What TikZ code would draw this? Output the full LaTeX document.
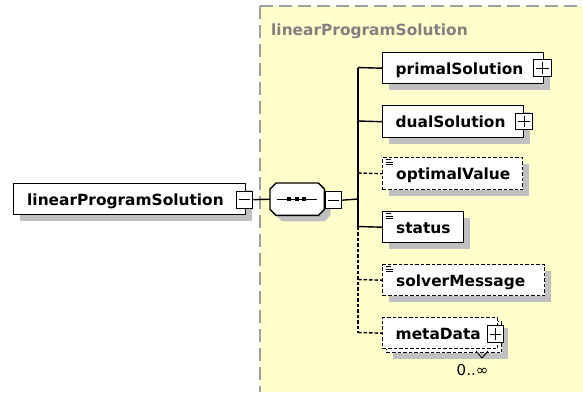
\documentclass[tikz,border=0pt]{standalone}
\usepackage{fontspec}
\setmainfont{DejaVu Sans}
\usetikzlibrary{shadows,calc}
\definecolor{groupfill}{RGB}{255,255,204}
\definecolor{groupline}{RGB}{160,160,160}
\definecolor{shadowgray}{RGB}{192,192,192}
\definecolor{titlegray}{RGB}{128,128,128}
\tikzset{
  shade6/.style={drop shadow={shadow xshift=6pt,shadow yshift=-6pt,fill=shadowgray,opacity=1}},
  plainbox/.style={draw,fill=white,line width=1.4pt,inner sep=0pt,anchor=north west},
  elembox/.style={plainbox,shade6},
  optbox/.style={elembox,dash pattern=on 3.5pt off 2pt},
  optplain/.style={plainbox,dash pattern=on 3.5pt off 2pt},
  elemlabel/.style={font=\bfseries\fontsize{15.4}{18}\selectfont,inner sep=0pt,anchor=base west},
  pmbox/.style={draw,fill=white,line width=1.3pt,inner sep=0pt,minimum width=17pt,minimum height=17pt,anchor=north west},
  conn/.style={line width=1.4pt},
  optconn/.style={conn,dash pattern=on 3.5pt off 2pt},
}
% expand/collapse glyphs inside the small square buttons
\newcommand\pmminus[1]{\draw[line width=1.2pt] ([xshift=3pt]#1.west) -- ([xshift=-3pt]#1.east);}
\newcommand\pmplus[1]{\pmminus{#1}\draw[line width=1.2pt] ([yshift=-3pt]#1.north) -- ([yshift=3pt]#1.south);}
% simple-content marker in the top left corner of an element box
\newcommand\simpleicon[1]{%
  \draw[line width=0.9pt] ([xshift=3.5pt,yshift=-2.5pt]#1.north west) -- +(5pt,0pt);
  \draw[line width=0.9pt] ([xshift=3.5pt,yshift=-5pt]#1.north west) -- +(7pt,0pt);
  \draw[line width=0.9pt] ([xshift=3.5pt,yshift=-7.5pt]#1.north west) -- +(7pt,0pt);}
\begin{document}
\begin{tikzpicture}[x=1pt,y=-1pt]
\useasboundingbox (0,0) rectangle (583,392);
% complex type area
\fill[groupfill] (260,6) rectangle (583,392);
\draw[groupline,line width=1.5pt,dash pattern=on 13pt off 6pt] (260,6) -- (583,6);
\draw[groupline,line width=1.5pt,dash pattern=on 13pt off 6pt] (260,6) -- (260,392);
\node[elemlabel,text=titlegray] (grouptitle) at (271,35) {linearProgramSolution};

% root element
\node[elembox,minimum width=232pt,minimum height=31pt] (root) at (13,183) {};
\node[elemlabel] (rootlabel) at (27,205) {linearProgramSolution};
\node[pmbox,minimum width=16pt] (rootpm) at (236,190.5) {};
\pmminus{rootpm}

% sequence compositor (octagon)
\node[inner sep=0pt,minimum width=54pt,minimum height=32pt,anchor=north west] (seq) at (270,183) {};
\path[draw,fill=white,line width=1.4pt,shade6]
  ($(seq.north west)+(6,0)$) -- ($(seq.north east)+(-6,0)$) -- ($(seq.north east)+(0,6)$)
  -- ($(seq.south east)+(0,-6)$) -- ($(seq.south east)+(-6,0)$) -- ($(seq.south west)+(6,0)$)
  -- ($(seq.south west)+(0,-6)$) -- ($(seq.north west)+(0,6)$) -- cycle;
\draw[conn] ([xshift=7pt]seq.west) -- ([xshift=-7pt]seq.east);
\foreach \dx in {19,27,34}
  \fill ($(seq.west)+(\dx,0)$) +(-1.8,-1.8) rectangle +(1.8,1.8);
\node[pmbox,minimum width=16pt] (seqpm) at (325,191) {};
\pmminus{seqpm}

\draw[conn] (rootpm.east) -- (seq.west);

% child elements
\node[elembox,minimum width=161pt,minimum height=31pt] (primal) at (382,52) {};
\node[elemlabel] (primallabel) at (395.5,74) {primalSolution};
\node[pmbox,minimum width=18pt] (primalpm) at (533,59) {};
\pmplus{primalpm}

\node[elembox,minimum width=141pt,minimum height=32pt] (dual) at (382,105) {};
\node[elemlabel] (duallabel) at (395.5,127.5) {dualSolution};
\node[pmbox,minimum height=16pt] (dualpm) at (515,112.5) {};
\pmplus{dualpm}

\node[optbox,minimum width=140pt,minimum height=32pt] (optimal) at (382,157) {};
\simpleicon{optimal}
\node[elemlabel] (optimallabel) at (396,179.5) {optimalValue};

\node[elembox,minimum width=81pt,minimum height=31pt] (status) at (382,211) {};
\simpleicon{status}
\node[elemlabel] (statuslabel) at (396,233) {status};

\node[optbox,minimum width=162pt,minimum height=31pt] (solver) at (382,264) {};
\simpleicon{solver}
\node[elemlabel] (solverlabel) at (396,286) {solverMessage};

\node[optbox,minimum width=115pt,minimum height=31pt] (metaback) at (386,321) {};
\node[optplain,minimum width=115pt,minimum height=31pt] (meta) at (382,317) {};
\node[elemlabel] (metalabel) at (395.5,339) {metaData};
\node[pmbox,minimum width=16pt] (metapm) at (487,325) {};
\pmplus{metapm}
\draw[line width=0.9pt] (476,351) -- (482,358) -- (488,351);
\node[font=\fontsize{15}{17}\selectfont,inner sep=0pt,anchor=base] (metaocc) at (472.5,375.5) {0..∞};

% bus joining the sequence to its children
\coordinate (bus0) at (358,199);
\coordinate (b1) at (358,67.5);
\coordinate (b2) at (358,121);
\coordinate (b3) at (358,173);
\coordinate (b4) at (358,226.5);
\coordinate (b5) at (358,279.5);
\coordinate (b6) at (358,332.5);
\draw[conn] (seqpm.east) -- (bus0);
\draw[conn] (b1) -- (b4);
\draw[optconn] (b4) -- (b6);
\draw[conn] (b1) -- (primal.west);
\draw[conn] (b2) -- (dual.west);
\draw[optconn] (b3) -- (optimal.west);
\draw[conn] (b4) -- (status.west);
\draw[optconn] (b5) -- (solver.west);
\draw[optconn] (b6) -- (meta.west);
\end{tikzpicture}
\end{document}
